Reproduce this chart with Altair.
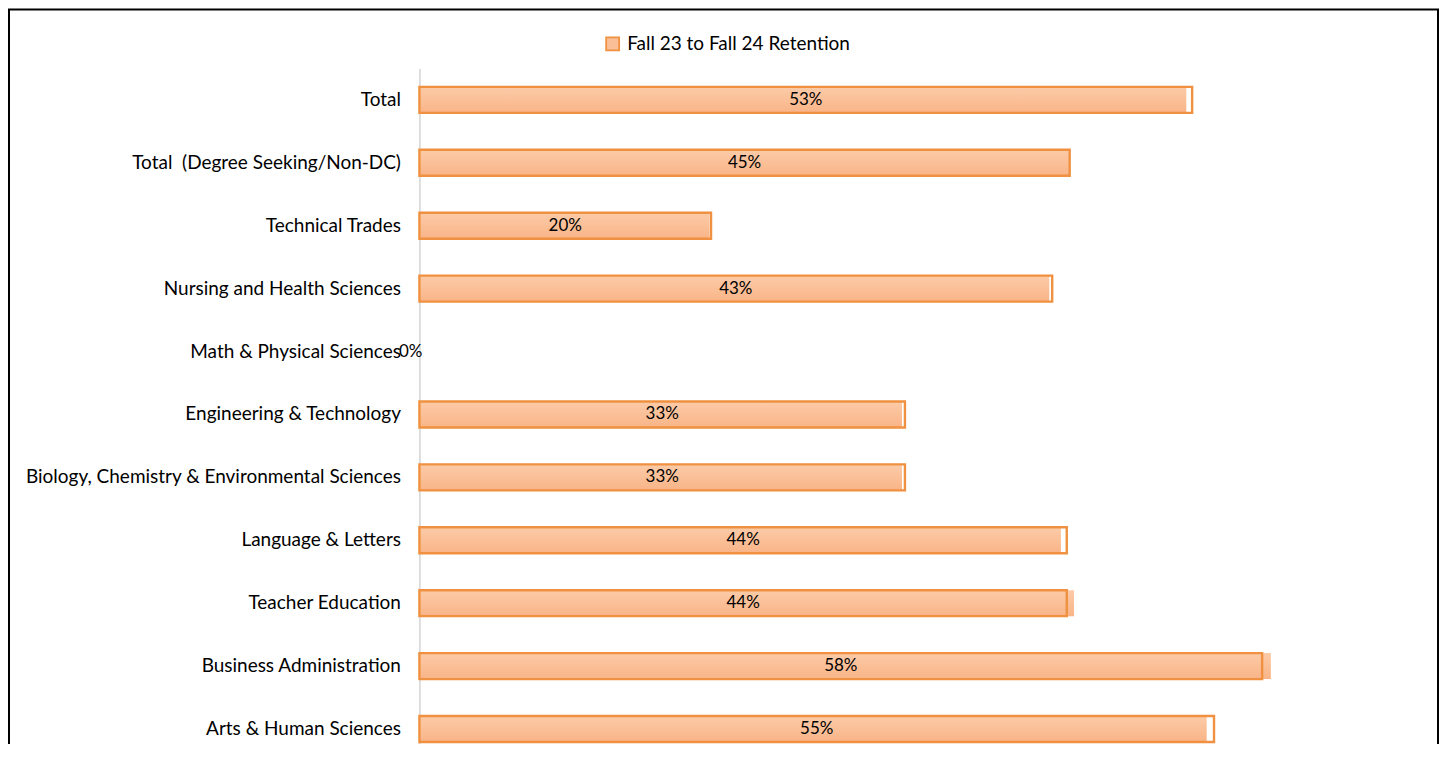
import altair as alt
import pandas as pd

categories = [
    "Total",
    "Total \u00a0(Degree Seeking/Non-DC)",
    "Technical Trades",
    "Nursing and Health Sciences",
    "Math & Physical Sciences",
    "Engineering & Technology",
    "Biology, Chemistry & Environmental Sciences",
    "Language & Letters",
    "Teacher Education",
    "Business Administration",
    "Arts & Human Sciences",
]
# outline (border) extent of each bar
retention = [0.530, 0.446, 0.200, 0.434, 0.0, 0.333, 0.333, 0.444, 0.444, 0.578, 0.545]
# shaded fill extent of each bar (slightly differs in the original)
fill_extent = [0.526, 0.446, 0.199, 0.432, 0.0, 0.331, 0.331, 0.440, 0.449, 0.584, 0.540]
labels = ["53%", "45%", "20%", "43%", "0%", "33%", "33%", "44%", "44%", "58%", "55%"]
series_name = "Fall 23 to Fall 24 Retention"

FONT = "Lato"
STROKE = "#EF9140"
FILL_FLAT = "#FBBF98"

df = pd.DataFrame({
    "category": categories,
    "retention": retention,
    "fill": fill_extent,
    "label": labels,
    "series": [series_name] * len(categories),
})

y_enc = alt.Y(
    "category:N",
    sort=categories,
    title=None,
    scale=alt.Scale(range=[0, 693], paddingInner=0, paddingOuter=0),
    axis=alt.Axis(
        ticks=False, tickSize=0, grid=False, labelPadding=19, labelLimit=600,
        labelFont=FONT, labelFontSize=19, labelColor="#000000",
        domainColor="#D4D4D4", domainWidth=1.5,
    ),
)
x_scale = alt.Scale(domain=[0, 0.7], nice=False, zero=True)

base = alt.Chart(df)

gradient = {
    "gradient": "linear",
    "x1": 0, "x2": 0, "y1": 0, "y2": 1,
    "stops": [
        {"offset": 0, "color": "#FCCBA8"},
        {"offset": 1, "color": "#F9B487"},
    ],
}

fill_layer = base.mark_bar(height=26, color=gradient).encode(
    x=alt.X("fill:Q", scale=x_scale, axis=None),
    y=y_enc,
)

outline_layer = base.transform_filter("datum.retention > 0").mark_bar(
    height=26, fill=FILL_FLAT, fillOpacity=0, strokeWidth=2.4
).encode(
    x=alt.X("retention:Q", scale=x_scale, axis=None),
    y=y_enc,
    stroke=alt.Stroke(
        "series:N",
        scale=alt.Scale(range=[STROKE]),
        legend=alt.Legend(
            title=None, orient="none", legendX=184, legendY=-34,
            symbolType="square", symbolSize=169, symbolFillColor=FILL_FLAT,
            symbolOpacity=1, symbolStrokeWidth=1.8, labelFont=FONT, labelFontSize=19,
            labelColor="#000000", labelOffset=5, labelLimit=600, padding=0,
        ),
    ),
)

text_layer = base.transform_filter("datum.retention > 0").transform_calculate(
    mid="datum.retention / 2"
).mark_text(font=FONT, fontSize=17, color="#000000", align="center", baseline="middle").encode(
    x=alt.X("mid:Q", scale=x_scale, axis=None),
    y=y_enc,
    text="label:N",
)

zero_text = base.transform_filter("datum.retention == 0").mark_text(
    font=FONT, fontSize=17, color="#000000", align="right", baseline="middle", dx=3
).encode(
    x=alt.X("retention:Q", scale=x_scale, axis=None),
    y=y_enc,
    text="label:N",
)

frame = alt.Chart(pd.DataFrame({"k": [0]})).mark_rect(
    fillOpacity=0, stroke="#000000", strokeWidth=2
).encode(
    x=alt.value(-411), x2=alt.value(1020), y=alt.value(-59), y2=alt.value(900)
)

chart = alt.layer(fill_layer, outline_layer, text_layer, zero_text, frame).properties(
    width=1022,
    height=676,
    padding={"left": 412, "top": 60, "right": 0, "bottom": 0},
    autosize=alt.AutoSizeParams(type="none"),
).configure_view(stroke=None)

chart.save("out.html", embed_options={"renderer": "svg", "actions": False})
